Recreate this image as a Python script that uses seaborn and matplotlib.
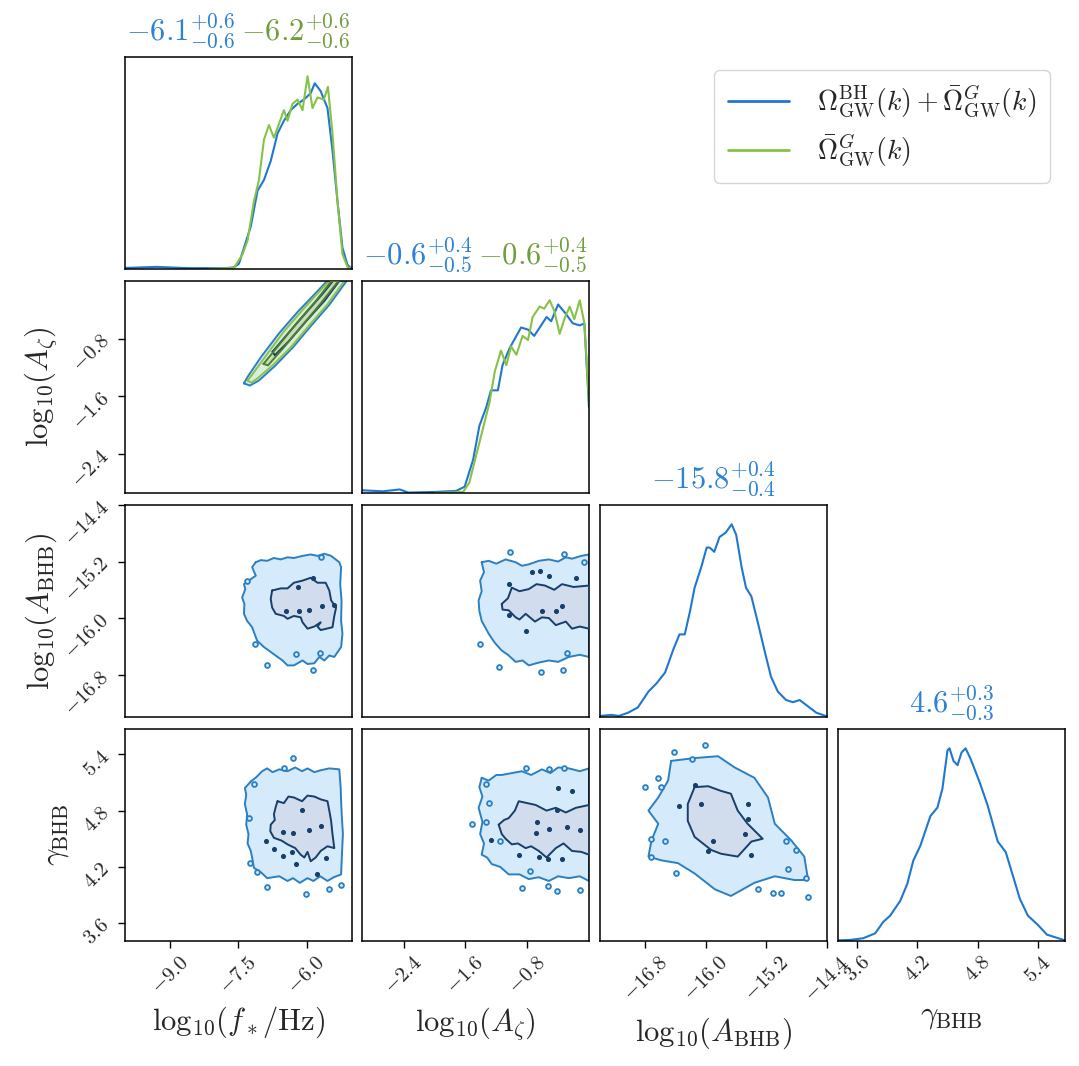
import numpy as np
import matplotlib
matplotlib.use("Agg")
import matplotlib.pyplot as plt
import seaborn as sns

# ---- 1D marginals (x, height as fraction of panel) ----
fstarX_bh = [-10.0, -9.3, -8.6, -7.8, -7.6, -7.49, -7.38, -7.23, -7.08, -6.94, -6.79, -6.64, -6.5, -6.35,
             -6.2, -6.06, -5.91, -5.82, -5.69, -5.54, -5.43, -5.32, -5.21, -5.1, -5.0]
fstarY_bh = [0.005, 0.01, 0.004, 0.004, 0.008, 0.025, 0.10, 0.20, 0.37, 0.42, 0.51, 0.64, 0.70, 0.75,
             0.78, 0.80, 0.83, 0.877, 0.84, 0.76, 0.56, 0.32, 0.10, 0.02, 0.0]
fstarX_g = [-8.15, -7.6, -7.41, -7.3, -7.16, -7.05, -6.94, -6.83, -6.72, -6.6, -6.5, -6.42, -6.31, -6.2,
            -6.09, -5.98, -5.87, -5.76, -5.62, -5.53, -5.43, -5.32, -5.21, -5.1, -5.0]
fstarY_g = [0.0, 0.005, 0.07, 0.135, 0.32, 0.42, 0.61, 0.68, 0.62, 0.69, 0.75, 0.70, 0.78, 0.80,
            0.75, 0.91, 0.76, 0.81, 0.80, 0.86, 0.64, 0.32, 0.07, 0.01, 0.0]

azetaX_bh = [-2.94, -2.67, -2.45, -2.34, -2.0, -1.72, -1.61, -1.5, -1.42, -1.33, -1.27, -1.18, -1.12, -1.03,
             -0.94, -0.88, -0.79, -0.71, -0.62, -0.55, -0.49, -0.4, -0.31, -0.21, -0.12, -0.06, 0.0]
azetaY_bh = [0.013, 0.008, 0.017, 0.002, 0.005, 0.01, 0.03, 0.16, 0.32, 0.41, 0.49, 0.49, 0.61, 0.69,
             0.75, 0.79, 0.78, 0.75, 0.80, 0.84, 0.82, 0.90, 0.86, 0.81, 0.80, 0.81, 0.41]
azetaX_g = [-2.0, -1.63, -1.55, -1.42, -1.29, -1.22, -1.14, -1.07, -1.01, -0.94, -0.86, -0.79, -0.73, -0.64,
            -0.58, -0.51, -0.45, -0.38, -0.31, -0.25, -0.19, -0.12, -0.06, 0.0]
azetaY_g = [0.0, 0.005, 0.05, 0.24, 0.43, 0.58, 0.68, 0.61, 0.70, 0.66, 0.75, 0.73, 0.84, 0.89,
            0.88, 0.92, 0.87, 0.76, 0.84, 0.89, 0.83, 0.92, 0.81, 0.43]

abhbX = [-17.4, -17.25, -17.15, -17.03, -16.9, -16.76, -16.65, -16.54, -16.43, -16.35, -16.28, -16.21, -16.15,
         -16.06, -15.99, -15.95, -15.89, -15.82, -15.74, -15.66, -15.6, -15.53, -15.47, -15.4, -15.31, -15.23,
         -15.14, -15.05, -14.94, -14.85, -14.76, -14.65, -14.54, -14.4]
abhbY = [0.005, 0.01, 0.005, 0.02, 0.045, 0.12, 0.16, 0.21, 0.32, 0.39, 0.39, 0.50, 0.61,
         0.71, 0.80, 0.80, 0.78, 0.85, 0.87, 0.91, 0.86, 0.71, 0.61, 0.57, 0.44, 0.32,
         0.19, 0.12, 0.08, 0.07, 0.08, 0.05, 0.02, 0.003]

gammaX = [3.41, 3.53, 3.66, 3.78, 3.86, 3.93, 4.03, 4.1, 4.16, 4.23, 4.33, 4.4, 4.45, 4.5, 4.52, 4.56, 4.6,
          4.64, 4.68, 4.73, 4.82, 4.9, 5.0, 5.08, 5.15, 5.22, 5.3, 5.4, 5.49, 5.67]
gammaY = [0.003, 0.005, 0.013, 0.036, 0.09, 0.12, 0.19, 0.27, 0.38, 0.45, 0.59, 0.63, 0.72, 0.90, 0.91, 0.85,
          0.83, 0.89, 0.91, 0.86, 0.75, 0.64, 0.47, 0.42, 0.31, 0.20, 0.12, 0.076, 0.03, 0.003]

# ---- 2D credible regions (outer / inner outlines, data units) ----
band_bh_outer = ([-7.38, -7.3, -7.0, -6.6, -6.2, -5.85, -5.55, -5.12, -5.5, -5.9, -6.3, -6.7, -7.05, -7.25],
                 [-1.42, -1.33, -1.05, -0.72, -0.43, -0.2, 0.0, 0.0, -0.33, -0.62, -0.92, -1.18, -1.38, -1.45])
band_g_outer = ([-7.3, -7.2, -6.9, -6.5, -6.1, -5.8, -5.5, -5.17, -5.55, -5.95, -6.35, -6.75, -7.08, -7.22],
                [-1.38, -1.3, -1.04, -0.7, -0.41, -0.2, 0.0, 0.0, -0.33, -0.62, -0.92, -1.17, -1.35, -1.41])
band_bh_inner = ([-6.75, -6.4, -6.0, -5.65, -5.42, -5.28, -5.6, -6.0, -6.4, -6.7],
                 [-0.98, -0.72, -0.43, -0.18, 0.0, 0.0, -0.27, -0.55, -0.84, -1.03])
band_g_inner = ([-6.95, -6.6, -6.2, -5.8, -5.45, -5.3, -5.7, -6.1, -6.5, -6.85],
                [-1.15, -0.88, -0.57, -0.28, 0.0, 0.0, -0.32, -0.62, -0.92, -1.17])

fA_outer = ([-7.12, -7.01, -6.87, -6.72, -6.57, -6.42, -6.28, -6.09, -5.91, -5.76, -5.61, -5.46, -5.28, -5.24,
             -5.26, -5.23, -5.24, -5.21, -5.24, -5.39, -5.50, -5.61, -5.72, -5.83, -5.98, -6.09, -6.28, -6.42,
             -6.53, -6.64, -6.79, -6.94, -7.09, -7.20, -7.31, -7.38, -7.37, -7.42, -7.35, -7.38, -7.23, -7.12, -7.20],
            [-15.21, -15.18, -15.19, -15.15, -15.17, -15.14, -15.15, -15.12, -15.10, -15.12, -15.09, -15.12, -15.21,
             -15.28, -15.52, -15.75, -16.04, -16.22, -16.41, -16.55, -16.53, -16.60, -16.55, -16.64, -16.65, -16.60,
             -16.67, -16.67, -16.60, -16.55, -16.48, -16.41, -16.32, -16.13, -16.04, -15.94, -15.80, -15.71, -15.59,
             -15.52, -15.45, -15.40, -15.28])
fA_inner = ([-6.76, -6.57, -6.42, -6.28, -6.09, -5.91, -5.76, -5.58, -5.50, -5.46, -5.35, -5.39, -5.43, -5.69,
             -5.76, -5.69, -5.83, -5.98, -6.09, -6.13, -6.28, -6.42, -6.50, -6.68, -6.76, -6.79],
            [-15.61, -15.58, -15.58, -15.50, -15.47, -15.43, -15.50, -15.50, -15.61, -15.75, -15.85, -15.97, -16.13,
             -16.17, -16.12, -16.06, -16.12, -16.15, -16.06, -15.99, -15.97, -16.01, -15.97, -15.94, -15.85, -15.73])
fA_isl_out = ([-7.31, -7.14, -6.87, -5.85, -6.24, -5.71, -5.69], [-15.47, -16.37, -16.67, -16.74, -16.51, -16.5, -15.13])
fA_isl_in = ([-6.2, -6.46, -6.17, -5.94, -5.65, -5.39, -5.87], [-15.56, -15.9, -15.9, -15.88, -15.83, -15.82, -15.43])

fg_outer = ([-7.23, -7.1, -6.98, -6.87, -6.75, -6.6, -6.42, -6.25, -6.1, -5.98, -5.83, -5.69, -5.5, -5.28, -5.25,
             -5.24, -5.22, -5.2, -5.22, -5.24, -5.4, -5.54, -5.7, -5.85, -5.98, -6.15, -6.3, -6.42, -6.6, -6.87,
             -7.0, -7.16, -7.2, -7.23, -7.3, -7.28, -7.33, -7.31, -7.36, -7.33, -7.36],
            [5.11, 5.16, 5.22, 5.25, 5.21, 5.24, 5.22, 5.26, 5.22, 5.25, 5.21, 5.23, 5.25, 5.24, 5.05,
             4.9, 4.7, 4.55, 4.35, 4.12, 4.09, 4.05, 4.1, 4.05, 4.08, 4.03, 4.08, 4.05, 4.1, 4.08,
             4.14, 4.19, 4.3, 4.37, 4.45, 4.55, 4.65, 4.76, 4.87, 4.97, 5.04])
fg_inner = ([-6.64, -6.5, -6.4, -6.28, -6.1, -5.98, -5.83, -5.69, -5.54, -5.5, -5.46, -5.43, -5.39, -5.54, -5.69,
             -5.8, -5.91, -5.98, -6.05, -6.13, -6.25, -6.42, -6.55, -6.72, -6.8, -6.79, -6.7, -6.72, -6.68],
            [4.9, 4.88, 4.95, 4.94, 4.9, 4.96, 4.95, 4.92, 4.9, 4.8, 4.69, 4.55, 4.4, 4.42, 4.37,
             4.3, 4.26, 4.36, 4.3, 4.33, 4.4, 4.44, 4.48, 4.51, 4.58, 4.65, 4.7, 4.76, 4.84])
fg_isl_out = ([-6.3, -6.5, -7.16, -7.25, -7.09, -6.87, -6.02, -5.5, -5.24, -7.27],
              [5.36, 5.25, 5.08, 4.24, 4.15, 3.99, 3.91, 3.96, 4.01, 4.72])
fg_isl_in = ([-6.53, -6.29, -5.69, -5.95, -6.9, -6.72, -6.33, -6.24, -6.51, -6.1, -5.58, -5.76],
             [4.57, 4.56, 4.64, 4.59, 4.48, 4.39, 4.36, 4.23, 4.32, 4.81, 4.3, 4.12])

zA_outer = ([-1.39, -1.3, -1.2, -1.08, -0.95, -0.87, -0.78, -0.65, -0.52, -0.4, -0.3, -0.22, -0.1, 0.0, 0.0,
             -0.12, -0.26, -0.4, -0.52, -0.65, -0.78, -0.86, -0.95, -1.05, -1.13, -1.22, -1.3, -1.36, -1.39,
             -1.42, -1.43, -1.39, -1.41, -1.36],
            [-15.21, -15.19, -15.23, -15.17, -15.21, -15.26, -15.24, -15.19, -15.17, -15.2, -15.14, -15.16, -15.12,
             -15.1, -16.55, -16.52, -16.55, -16.62, -16.6, -16.63, -16.67, -16.6, -16.62, -16.52, -16.46, -16.35,
             -16.22, -16.1, -16.04, -15.9, -15.75, -15.62, -15.47, -15.35])
zA_inner = ([-1.13, -1.05, -1.0, -0.9, -0.78, -0.68, -0.57, -0.45, -0.35, -0.2, 0.0, 0.0, -0.12, -0.22, -0.3,
             -0.43, -0.52, -0.61, -0.7, -0.82, -0.9, -0.95, -1.04, -1.12],
            [-15.8, -15.72, -15.57, -15.62, -15.59, -15.52, -15.54, -15.6, -15.52, -15.56, -15.54, -16.15, -16.12,
             -16.15, -16.05, -16.1, -16.0, -15.99, -16.05, -15.94, -16.02, -15.99, -15.89, -15.88])
zA_isl_out = ([-1.02, -0.33, -0.06, -1.41, -1.16, -0.62, -0.34, -0.28], [-15.07, -15.09, -15.2, -16.36, -16.69, -16.76, -16.73, -16.5])
zA_isl_in = ([-1.04, -0.74, -0.63, -0.52, -1.04, -0.61, -0.43, -0.35, -0.17, -0.82],
             [-15.52, -15.35, -15.33, -15.4, -15.96, -15.9, -15.9, -15.83, -15.43, -16.18])

zg_outer = ([-1.39, -1.3, -1.2, -1.13, -1.0, -0.87, -0.75, -0.61, -0.5, -0.4, -0.26, -0.12, 0.0, 0.0, -0.12,
             -0.26, -0.4, -0.52, -0.65, -0.78, -0.9, -1.04, -1.15, -1.26, -1.32, -1.39, -1.36, -1.41, -1.38,
             -1.43, -1.38, -1.42],
            [5.15, 5.12, 5.18, 5.18, 5.2, 5.22, 5.18, 5.24, 5.2, 5.26, 5.25, 5.22, 5.25, 4.05, 4.1,
             4.08, 4.1, 4.05, 4.09, 4.07, 4.12, 4.12, 4.2, 4.23, 4.3, 4.33, 4.45, 4.55, 4.68,
             4.83, 4.95, 5.05])
zg_inner = ([-1.17, -1.1, -1.04, -0.96, -0.91, -0.8, -0.69, -0.55, -0.43, -0.3, -0.17, 0.0, 0.0, -0.1, -0.22,
             -0.33, -0.43, -0.55, -0.65, -0.75, -0.82, -0.92, -1.0, -1.08, -1.13],
            [4.65, 4.7, 4.72, 4.8, 4.9, 4.88, 4.86, 4.8, 4.83, 4.78, 4.83, 4.86, 4.33, 4.36, 4.37,
             4.45, 4.4, 4.3, 4.37, 4.42, 4.4, 4.45, 4.44, 4.5, 4.55])
zg_isl_out = ([-0.82, -0.52, -0.33, -1.34, -1.3, -1.51, -1.34, -1.15, -0.76, -0.87, -0.53, -0.41, -0.12],
              [5.25, 5.24, 5.25, 5.08, 4.88, 4.66, 4.68, 4.48, 4.16, 3.98, 4.0, 3.94, 3.95])
zg_isl_in = ([-0.67, -1.27, -0.69, -0.52, -0.28, -0.12, -0.91, -0.65, -0.53, -0.35, -0.41, -0.22, -0.4],
             [4.68, 4.49, 4.56, 4.6, 4.63, 4.59, 4.33, 4.31, 4.28, 4.28, 4.81, 5.01, 5.04])

Ag_outer = ([-16.46, -16.15, -15.84, -15.62, -15.36, -15.18, -15.09, -14.87, -14.7, -14.65, -14.83, -15.09, -15.36,
             -15.67, -15.88, -16.15, -16.37, -16.59, -16.76, -16.72, -16.63, -16.76, -16.63, -16.5],
            [5.33, 5.36, 5.38, 5.26, 5.15, 4.94, 4.66, 4.48, 4.31, 4.06, 4.06, 4.1, 4.03,
             3.89, 3.96, 4.13, 4.24, 4.27, 4.31, 4.48, 4.66, 4.8, 4.94, 5.12])
Ag_inner = ([-16.15, -15.97, -15.8, -15.67, -15.58, -15.45, -15.25, -15.4, -15.58, -15.8, -15.93, -16.15, -16.24, -16.24],
            [5.05, 5.06, 5.01, 4.98, 4.8, 4.66, 4.5, 4.47, 4.31, 4.34, 4.38, 4.52, 4.69, 4.87])
Ag_isl_out = ([-16.42, -16.19, -16.01, -16.63, -16.8, -16.59, -16.72, -16.54, -16.72, -16.39, -15.31, -15.12, -15.01,
               -14.65, -14.68, -14.81, -14.94, -14.92],
              [5.42, 5.35, 5.5, 5.15, 5.05, 5.05, 4.5, 4.48, 4.31, 4.13, 3.96, 3.92, 3.92, 3.88, 4.08, 4.38, 4.48, 4.18])
Ag_isl_in = ([-16.15, -16.35, -16.06, -15.45, -15.45, -15.97, -15.41, -15.91, -15.49],
             [5.07, 4.85, 4.87, 4.87, 4.71, 4.37, 4.33, 4.48, 4.55])

# ---- axes setup ----
limits = [(-10.0, -5.0), (-2.94, 0.0), (-17.4, -14.4), (3.41, 5.67)]
ticks = [[-9.0, -7.5, -6.0], [-2.4, -1.6, -0.8], [-16.8, -16.0, -15.2, -14.4], [3.6, 4.2, 4.8, 5.4]]
labels = [r"$\mathrm{log}_{10}(f_*/\mathrm{Hz})$", r"$\mathrm{log}_{10}(A_\zeta)$",
          r"$\mathrm{log}_{10}(A_\mathrm{BHB})$", r"$\gamma_\mathrm{BHB}$"]
titles = [[(r"$-6.1^{+0.6}_{-0.6}$", "bh"), (r"$-6.2^{+0.6}_{-0.6}$", "g")],
          [(r"$-0.6^{+0.4}_{-0.5}$", "bh"), (r"$-0.6^{+0.4}_{-0.5}$", "g")],
          [(r"$-15.8^{+0.4}_{-0.4}$", "bh")],
          [(r"$4.6^{+0.3}_{-0.3}$", "bh")]]
legendLabels = [r"$\Omega^{\rm BH}_{\rm GW}(k)+\bar{\Omega}^{G}_{\rm GW}(k)$", r"$\bar{\Omega}^{G}_{\rm GW}(k)$"]

blue, green = "#1f77d2", "#86c246"
titleColor = {"bh": "#2b82d6", "g": "#6f9e3c"}
bhStyle = dict(fillOut="#d5eafb", fillIn="#d1dcec", lineOut="#2a80c3", lineIn="#173f6b")
gStyle = dict(fillOut="#d9f0d6", fillIn="#c6dfb8", lineOut="#8cc152", lineIn="#4f7d30")

sns.set_theme(style="ticks")
plt.rcParams["mathtext.fontset"] = "cm"
plt.rcParams["font.family"] = ["DejaVu Serif"]
plt.rcParams["axes.edgecolor"] = "black"
plt.rcParams["axes.linewidth"] = 1.1


def drawRegion(ax, poly, style, level):
    xs = list(poly[0]) + [poly[0][0]]
    ys = list(poly[1]) + [poly[1][0]]
    fill = style["fillOut"] if level == "out" else style["fillIn"]
    line = style["lineOut"] if level == "out" else style["lineIn"]
    ax.fill(xs, ys, color=fill, lw=0, zorder=1 if level == "out" else 3)
    sns.lineplot(x=xs, y=ys, sort=False, estimator=None, ax=ax, color=line, lw=1.4,
                 zorder=2 if level == "out" else 4)


def drawIslands(ax, pts, style, level):
    if level == "out":
        sns.scatterplot(x=pts[0], y=pts[1], ax=ax, s=12, color=style["fillOut"],
                        edgecolor=style["lineOut"], linewidth=1.3, zorder=2)
    else:
        sns.scatterplot(x=pts[0], y=pts[1], ax=ax, s=7, color=style["lineIn"],
                        edgecolor=style["lineIn"], linewidth=1.0, zorder=4)


fig = plt.figure(figsize=(10.79, 10.66), dpi=100)
W, H = 1079, 1066
colLeft = [125, 362, 600, 838]
rowTop = [57, 281, 505, 729]
axw, axh = 227, 212

axes = {}
for r in range(4):
    for c in range(r + 1):
        ax = fig.add_axes([colLeft[c] / W, 1 - (rowTop[r] + axh) / H, axw / W, axh / H])
        ax.set_xlim(*limits[c])
        if r != c:
            ax.set_ylim(*limits[r])
        ax.tick_params(direction="out", length=5, width=1.0, color="black")
        if r == 3:
            ax.set_xticks(ticks[c])
            ax.set_xticklabels([f"${t:.1f}$" for t in ticks[c]], rotation=45, fontsize=15)
            ax.set_xlabel(labels[c], fontsize=22)
        else:
            ax.set_xticks([])
            ax.set_xlabel("")
        if c == 0 and r > 0:
            ax.set_yticks(ticks[r])
            ax.set_yticklabels([f"${t:.1f}$" for t in ticks[r]], rotation=45, fontsize=15)
            ax.set_ylabel(labels[r], fontsize=22)
        else:
            ax.set_yticks([])
        axes[(r, c)] = ax

# diagonal marginals
diag = {0: [(fstarX_bh, fstarY_bh, blue), (fstarX_g, fstarY_g, green)],
        1: [(azetaX_bh, azetaY_bh, blue), (azetaX_g, azetaY_g, green)],
        2: [(abhbX, abhbY, blue)],
        3: [(gammaX, gammaY, blue)]}
for i, curves in diag.items():
    ax = axes[(i, i)]
    top = 0
    for xs, ys, col in curves:
        sns.lineplot(x=xs, y=ys, ax=ax, color=col, lw=1.5)
        top = max(top, max(ys))
    ax.set_ylim(0, 1.1 * top)
    ax.set_ylabel("")
    if i < 3:
        ax.set_xlabel("")
    tl = titles[i]
    if len(tl) == 2:
        ax.text(0.485, 1.03, tl[0][0], transform=ax.transAxes, ha="right", va="bottom",
                fontsize=22, color=titleColor[tl[0][1]])
        ax.text(0.51, 1.03, tl[1][0], transform=ax.transAxes, ha="left", va="bottom",
                fontsize=22, color=titleColor[tl[1][1]])
    else:
        ax.text(0.5, 1.03, tl[0][0], transform=ax.transAxes, ha="center", va="bottom",
                fontsize=22, color=titleColor[tl[0][1]])
axes[(3, 3)].set_xlabel(labels[3], fontsize=22)

# f* vs A_zeta band (both runs)
ax = axes[(1, 0)]
drawRegion(ax, band_bh_outer, bhStyle, "out")
drawRegion(ax, band_g_outer, gStyle, "out")
drawRegion(ax, band_bh_inner, bhStyle, "in")
drawRegion(ax, band_g_inner, gStyle, "in")

panels2d = {(2, 0): (fA_outer, fA_inner, fA_isl_out, fA_isl_in),
            (3, 0): (fg_outer, fg_inner, fg_isl_out, fg_isl_in),
            (2, 1): (zA_outer, zA_inner, zA_isl_out, zA_isl_in),
            (3, 1): (zg_outer, zg_inner, zg_isl_out, zg_isl_in),
            (3, 2): (Ag_outer, Ag_inner, Ag_isl_out, Ag_isl_in)}
for key, (outer, inner, islOut, islIn) in panels2d.items():
    ax = axes[key]
    drawRegion(ax, outer, bhStyle, "out")
    drawIslands(ax, islOut, bhStyle, "out")
    drawRegion(ax, inner, bhStyle, "in")
    drawIslands(ax, islIn, bhStyle, "in")
    ax.set_xlim(*limits[key[1]])
    ax.set_ylim(*limits[key[0]])
    if key[0] != 3:
        ax.set_xlabel("")
    if key[1] != 0:
        ax.set_ylabel("")

# axis label placement
xlabY = [-0.30, -0.30, -0.35, -0.28]
for c in range(4):
    axes[(3, c)].xaxis.set_label_coords(0.5, xlabY[c])
ylabX = [None, -0.29, -0.29, -0.24]
for r in range(1, 4):
    axes[(r, 0)].yaxis.set_label_coords(ylabX[r], 0.5)
for ax in axes.values():
    for s in ax.spines.values():
        s.set_visible(True)
        s.set_linewidth(1.1)
        s.set_color("black")
    if ax.get_legend() is not None:
        ax.get_legend().remove()

handles = [plt.Line2D([], [], color=blue, lw=2), plt.Line2D([], [], color=green, lw=2)]
fig.legend(handles, legendLabels, loc="upper right", bbox_to_anchor=(1050 / W, 1 - 70 / H),
           borderaxespad=0, fontsize=20, frameon=True, handlelength=2.2, handletextpad=1.0,
           borderpad=0.5, labelspacing=0.45, edgecolor="#cccccc", fancybox=True)

fig.savefig("out.png", dpi=100)
